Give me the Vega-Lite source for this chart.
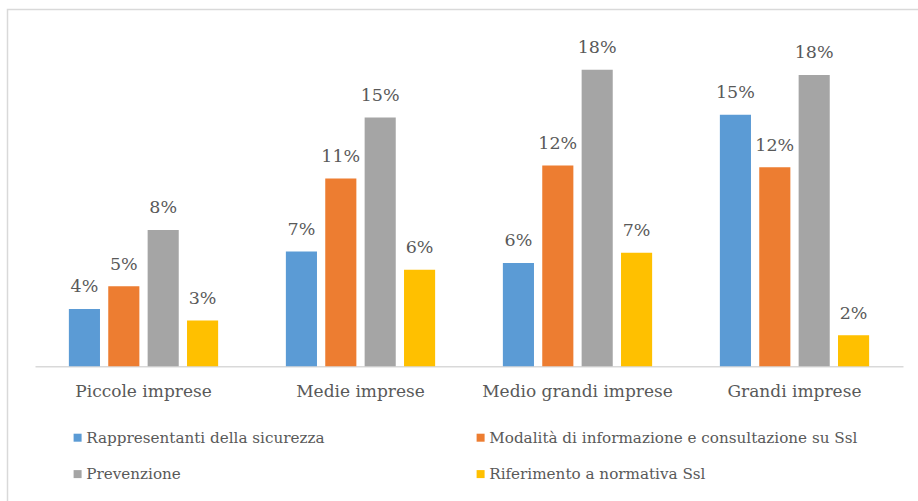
{
  "$schema": "https://vega.github.io/schema/vega-lite/v6.json",
  "width": 912,
  "height": 496,
  "autosize": {"type": "none"},
  "padding": {"left": 7.5, "top": 9.5, "right": -1.5, "bottom": -4.5},
  "background": "white",
  "config": {
    "view": {"stroke": "#d9d9d9", "strokeWidth": 1.5},
    "font": "DejaVu Serif",
    "legend": {"labelFont": "DejaVu Serif", "titleFont": "DejaVu Serif"},
    "axis": {"labelFont": "DejaVu Serif"},
    "text": {"font": "DejaVu Serif"}
  },
  "data": {
    "values": [
      {"group": "Piccole imprese", "series": "Rappresentanti della sicurezza", "value": 0.0351},
      {"group": "Piccole imprese", "series": "Modalità di informazione e consultazione su Ssl", "value": 0.0489},
      {"group": "Piccole imprese", "series": "Prevenzione", "value": 0.0834},
      {"group": "Piccole imprese", "series": "Riferimento a normativa Ssl", "value": 0.028},
      {"group": "Medie imprese", "series": "Rappresentanti della sicurezza", "value": 0.0702},
      {"group": "Medie imprese", "series": "Modalità di informazione e consultazione su Ssl", "value": 0.1148},
      {"group": "Medie imprese", "series": "Prevenzione", "value": 0.1521},
      {"group": "Medie imprese", "series": "Riferimento a normativa Ssl", "value": 0.0591},
      {"group": "Medio grandi imprese", "series": "Rappresentanti della sicurezza", "value": 0.0632},
      {"group": "Medio grandi imprese", "series": "Modalità di informazione e consultazione su Ssl", "value": 0.1228},
      {"group": "Medio grandi imprese", "series": "Prevenzione", "value": 0.1813},
      {"group": "Medio grandi imprese", "series": "Riferimento a normativa Ssl", "value": 0.0694},
      {"group": "Grandi imprese", "series": "Rappresentanti della sicurezza", "value": 0.1539},
      {"group": "Grandi imprese", "series": "Modalità di informazione e consultazione su Ssl", "value": 0.1217},
      {"group": "Grandi imprese", "series": "Prevenzione", "value": 0.1782},
      {"group": "Grandi imprese", "series": "Riferimento a normativa Ssl", "value": 0.019}
    ]
  },
  "encoding": {
    "x": {
      "field": "group",
      "type": "nominal",
      "sort": ["Piccole imprese", "Medie imprese", "Medio grandi imprese", "Grandi imprese"],
      "scale": {"range": [27.5, 895.5], "paddingInner": 0, "paddingOuter": 0},
      "axis": {
        "title": null,
        "labelAngle": 0,
        "domain": true,
        "domainColor": "#d9d9d9",
        "domainWidth": 1.5,
        "ticks": false,
        "tickSize": 0,
        "grid": false,
        "labelPadding": 17,
        "labelFontSize": 17,
        "labelFont": "DejaVu Serif",
        "labelColor": "#595959",
        "labelBaseline": "top",
        "labelLimit": 400,
        "offset": -139.2
      }
    },
    "xOffset": {
      "field": "series",
      "type": "nominal",
      "sort": ["Rappresentanti della sicurezza", "Modalità di informazione e consultazione su Ssl", "Prevenzione", "Riferimento a normativa Ssl"],
      "scale": {"paddingInner": 0.21, "paddingOuter": 0.86}
    },
    "y": {
      "field": "value",
      "type": "quantitative",
      "scale": {"domain": [0, 0.2], "range": [356.8, 29.8], "nice": false, "zero": true},
      "axis": null
    }
  },
  "layer": [
    {
      "mark": {"type": "bar"},
      "encoding": {
        "color": {
          "field": "series",
          "type": "nominal",
          "sort": ["Rappresentanti della sicurezza", "Modalità di informazione e consultazione su Ssl", "Prevenzione", "Riferimento a normativa Ssl"],
          "scale": {
            "domain": ["Rappresentanti della sicurezza", "Modalità di informazione e consultazione su Ssl", "Prevenzione", "Riferimento a normativa Ssl"],
            "range": ["#5B9BD5", "#ED7D31", "#A5A5A5", "#FFC000"]
          },
          "legend": {
            "orient": "none",
            "direction": "horizontal",
            "legendX": 62.5,
            "legendY": 420.5,
            "columns": 2,
            "columnPadding": 148,
            "rowPadding": 20.5,
            "symbolType": "square",
            "symbolSize": 64,
            "symbolStrokeWidth": 0,
            "labelFontSize": 15.2,
            "labelFont": "DejaVu Serif",
            "labelColor": "#595959",
            "labelOffset": 1,
            "labelLimit": 600,
            "title": null,
            "padding": 0
          }
        }
      }
    },
    {
      "mark": {"type": "text", "dy": -16.5, "baseline": "alphabetic", "fontSize": 17.5, "font": "DejaVu Serif", "color": "#595959"},
      "encoding": {
        "text": {"field": "value", "type": "quantitative", "format": ".0%"}
      }
    }
  ]
}
